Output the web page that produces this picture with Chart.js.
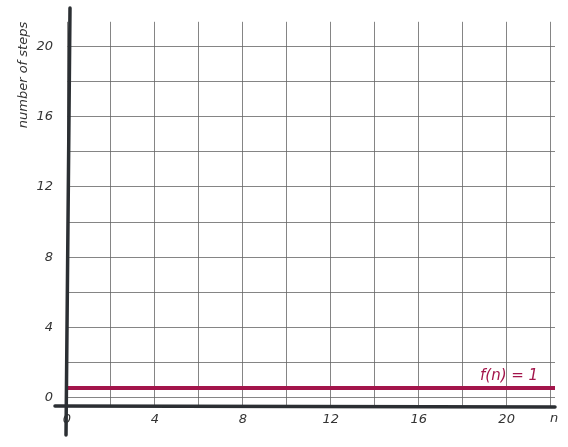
<!DOCTYPE html>
<html><head><meta charset="utf-8">
<script src="https://cdn.jsdelivr.net/npm/chart.js@4"></script>
<style>html,body{margin:0;background:#fff}#wrap{width:568px;height:447px}</style>
</head><body><div id="wrap"><canvas id="c"></canvas></div>
<script>
const nValues = [0, 22.2];
const fValues = [0.55, 0.55];
const xTicks = [0,2,4,6,8,10,12,14,16,18,20,22];
const yTicks = [0,2,4,6,8,10,12,14,16,18,20];
const font = {family: "DejaVu Sans", size: 13, style: "italic"};
const ink = "#333";

const axesPlugin = {
  id: "axes",
  afterDraw(chart) {
    const ctx = chart.ctx, xs = chart.scales.x, ys = chart.scales.y;
    const x0 = xs.getPixelForValue(0), yb = chart.chartArea.bottom;
    ctx.save();
    ctx.strokeStyle = "#2b2f33"; ctx.lineWidth = 3.5; ctx.lineCap = "round";
    ctx.beginPath(); ctx.moveTo(x0 + 3, 8); ctx.lineTo(x0 - 1, 435); ctx.stroke();
    ctx.beginPath(); ctx.moveTo(55, yb); ctx.lineTo(555, yb + 1); ctx.stroke();
    ctx.fillStyle = ink; ctx.font = "italic 13px 'DejaVu Sans'";
    ctx.fillText("n", 550, 422);
    ctx.fillStyle = "#a3154b"; ctx.font = "italic 15px 'DejaVu Sans'";
    ctx.fillText("f(n) = 1", 480, 380);
    ctx.translate(27, 75); ctx.rotate(-Math.PI / 2);
    ctx.fillStyle = ink; ctx.font = "italic 13px 'DejaVu Sans'"; ctx.textAlign = "center";
    ctx.fillText("number of steps", 0, 0);
    ctx.restore();
  }
};

new Chart(document.getElementById("c"), {
  type: "line",
  data: {datasets: [{data: nValues.map((n, i) => ({x: n, y: fValues[i]})),
    borderColor: "#a3154b", borderWidth: 4, pointRadius: 0}]},
  options: {
    responsive: true, maintainAspectRatio: false, animation: false,
    layout: {padding: {top: -2, right: 13, left: 0, bottom: 0}},
    plugins: {legend: {display: false}, tooltip: {enabled: false}},
    scales: {
      x: {type: "linear", min: 0, max: 22.2,
        afterBuildTicks: s => { s.ticks = xTicks.map(v => ({value: v})); },
        afterFit: s => { s.height = 41; },
        grid: {color: "#666", lineWidth: 0.8, drawTicks: false},
        border: {display: false},
        ticks: {color: ink, font: font, padding: 6, autoSkip: false, maxRotation: 0,
          callback: v => v % 4 === 0 && v <= 20 ? v : ""}},
      y: {min: -0.47, max: 21.4,
        afterBuildTicks: s => { s.ticks = yTicks.map(v => ({value: v})); },
        afterFit: s => { s.width = 67; },
        grid: {color: "#666", lineWidth: 0.8, drawTicks: false},
        border: {display: false},
        ticks: {color: ink, font: font, padding: 14, autoSkip: false,
          callback: v => v % 4 === 0 ? v : ""}}
    }
  },
  plugins: [axesPlugin]
});
</script></body></html>
